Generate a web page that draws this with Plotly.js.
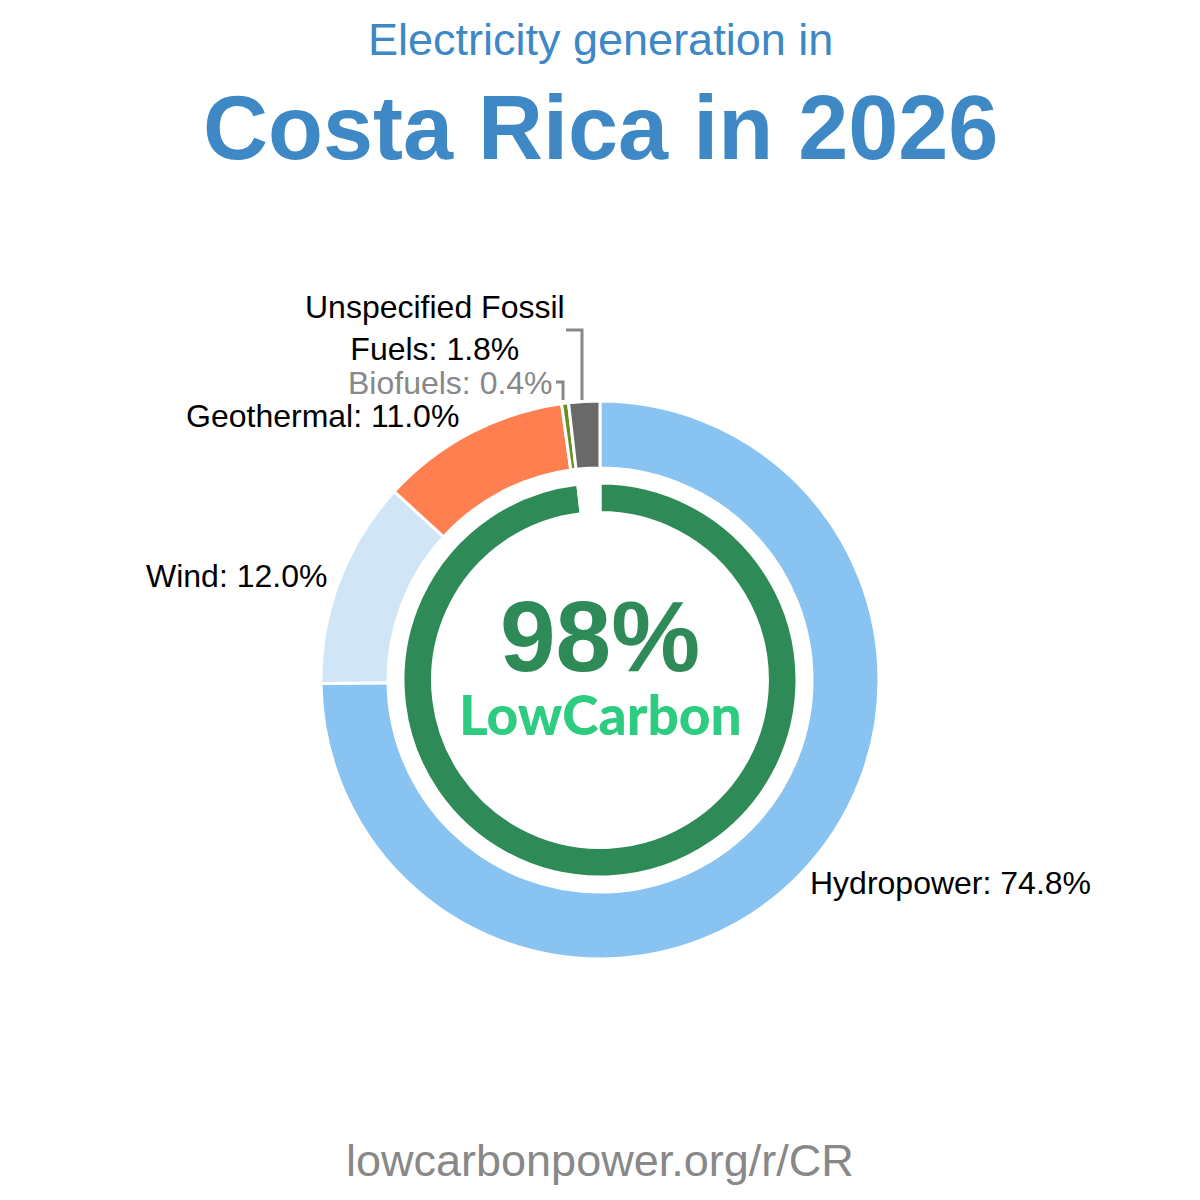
<!DOCTYPE html>
<html>
<head>
<meta charset="utf-8">
<script src="https://cdn.plot.ly/plotly-3.0.1.min.js"></script>
<style>html,body{margin:0;padding:0;background:#fff}#chart{width:1200px;height:1200px}</style>
</head>
<body>
<div id="chart"></div>
<script>
// ---- data ----
const sources = ["Hydropower", "Wind", "Geothermal", "Biofuels", "Unspecified Fossil Fuels"];
const shares = [74.8, 12.0, 11.0, 0.4, 1.8];
const sourceColors = ["#89C3F2", "#D0E6F7", "#FF7F50", "#6B8E23", "#696969"];
const ringLabels = ["Low carbon", "Other"];
const ringShares = [98.2, 1.8];
const lowCarbonText = "98%";
const titleLine1 = "Electricity generation in";
const titleLine2 = "Costa Rica in 2026";
const footer = "lowcarbonpower.org/r/CR";

const W = 1200, H = 1200;
const px = x => x / W;
const py = y => 1 - y / H;

const outer = {
  type: "pie",
  labels: sources,
  values: shares,
  sort: false,
  direction: "clockwise",
  rotation: 0,
  hole: 0.76,
  textinfo: "none",
  hoverinfo: "label+percent",
  marker: {colors: sourceColors, line: {color: "#ffffff", width: 3}},
  domain: {x: [px(321), px(879)], y: [py(959), py(401)]},
  showlegend: false
};
const inner = {
  type: "pie",
  labels: ringLabels,
  values: ringShares,
  sort: false,
  direction: "clockwise",
  rotation: 0,
  hole: 0.85,
  textinfo: "none",
  hoverinfo: "none",
  marker: {colors: ["#2E8B57", "rgba(255,255,255,0)"], line: {color: "#ffffff", width: 3}},
  domain: {x: [px(403), px(797)], y: [py(877), py(483)]},
  showlegend: false
};

const fmt = v => v.toFixed(1) + "%";
const labelFont = {family: "Liberation Sans, Arial, sans-serif", size: 32, color: "#000"};
const annotations = [
  {text: titleLine1, x: 0.5, y: py(40), xanchor: "center", yanchor: "middle",
   font: {family: "Liberation Sans, Arial, sans-serif", size: 45, color: "#3E88C5"}},
  {text: "<b>" + titleLine2 + "</b>", x: 0.5, y: py(128), xanchor: "center", yanchor: "middle",
   font: {family: "Liberation Sans, Arial, sans-serif", size: 90, color: "#3E88C5"}},
  {text: footer, x: 0.5, y: py(1160), xanchor: "center", yanchor: "middle",
   font: {family: "Liberation Sans, Arial, sans-serif", size: 45, color: "#888888"}},
  {text: "<b>" + lowCarbonText + "</b>", x: 0.5, y: py(636), xanchor: "center", yanchor: "middle",
   font: {family: "Liberation Sans, Arial, sans-serif", size: 100, color: "#2E8B57"}},
  {text: "LowCarbon", x: 0.5, y: py(714), xanchor: "center", yanchor: "middle",
   font: {family: "Lato, sans-serif", size: 55, weight: 900, color: "#2ECC80"}},
  {text: sources[0] + ": " + fmt(shares[0]), x: px(808), y: py(883), xanchor: "left", yanchor: "middle", font: labelFont},
  {text: sources[1] + ": " + fmt(shares[1]), x: px(329), y: py(576), xanchor: "right", yanchor: "middle", font: labelFont},
  {text: sources[2] + ": " + fmt(shares[2]), x: px(461), y: py(416), xanchor: "right", yanchor: "middle", font: labelFont},
  {text: sources[3] + ": " + fmt(shares[3]), x: px(555), y: py(383), xanchor: "right", yanchor: "middle",
   font: Object.assign({}, labelFont, {color: "#888888"})},
  {text: "Unspecified Fossil<br>Fuels: " + fmt(shares[4]), x: px(435), y: py(328), xanchor: "center", yanchor: "middle",
   align: "center", font: labelFont}
].map(a => Object.assign({xref: "paper", yref: "paper", showarrow: false}, a));

const lc = {color: "#888888", width: 3};
const shapes = [
  {type: "path", path: `M ${px(566)} ${py(330)} L ${px(582)} ${py(330)} L ${px(582)} ${py(400)}`, line: lc},
  {type: "path", path: `M ${px(556)} ${py(382)} L ${px(563)} ${py(382)} L ${px(563)} ${py(400)}`, line: lc}
].map(s => Object.assign({xref: "paper", yref: "paper"}, s));

Plotly.newPlot("chart", [outer, inner], {
  width: W, height: H,
  margin: {l: 0, r: 0, t: 0, b: 0},
  paper_bgcolor: "#ffffff",
  annotations, shapes
}, {displayModeBar: false, staticPlot: true});
</script>
</body>
</html>
